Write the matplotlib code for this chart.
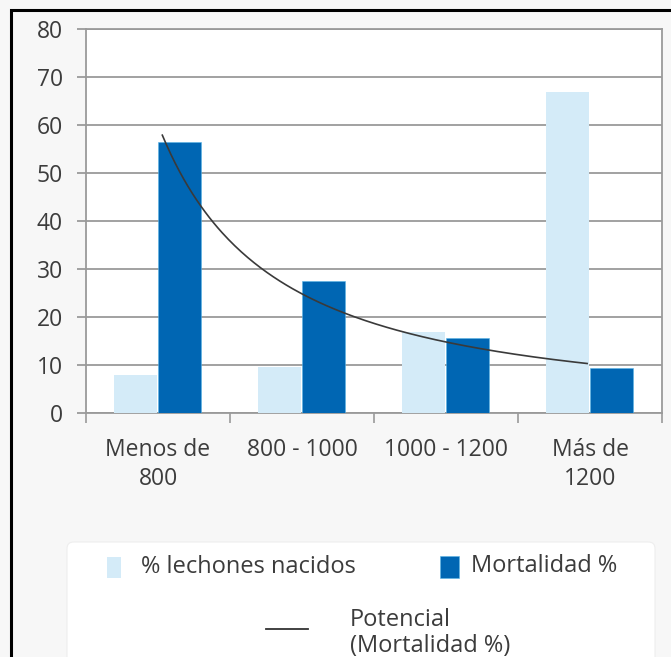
import numpy as np
import matplotlib
matplotlib.use("Agg")
import matplotlib.pyplot as plt
from matplotlib.patches import Rectangle, FancyBboxPatch
from matplotlib.lines import Line2D

categories = ["Menos de\n800", "800 - 1000", "1000 - 1200", "Más de\n1200"]
lechones = [8, 9.6, 16.8, 66.8]
mortalidad = [56.5, 27.4, 15.7, 9.3]
yticks = [0, 10, 20, 30, 40, 50, 60, 70, 80]

light = "#d4ebf8"
dark = "#0066b3"
grid_c = "#9a9a9a"
txt_c = "#3c3c3c"
FS = 16.5
LFS = 17
plt.rcParams["font.family"] = ["Open Sans", "DejaVu Sans"]

W, H = 671, 657
fig = plt.figure(figsize=(W / 100, H / 100), dpi=100)
fig.patch.set_facecolor("#f7f7f7")

ax = fig.add_axes([86 / W, 1 - 413 / H, (662 - 86) / W, (413 - 29) / H])
ax.set_facecolor("white")

x = np.arange(len(categories))
bw = 0.3
ax.bar(x - 0.158, lechones, bw, color=light, zorder=3)
ax.bar(x + 0.152, mortalidad, bw, color=dark, zorder=3, edgecolor="#5ab4e6", linewidth=0.4)

# power trendline ("Potencial") fitted on mortality
lx = np.log(x + 1)
ly = np.log(mortalidad)
b, lna = np.polyfit(lx, ly, 1)
xs = np.linspace(0.03, 2.98, 200)
ax.plot(xs, np.exp(lna) * (xs + 1) ** b, color="#3a3a3a", lw=1.2, zorder=4)

ax.set_xlim(-0.5, 3.5)
ax.set_ylim(0, 80)
ax.set_yticks(yticks)
ax.set_yticklabels([str(v) for v in yticks])
ax.yaxis.grid(True, color=grid_c, lw=1.3, zorder=0)
ax.tick_params(axis="y", length=6.5, width=1.3, color=grid_c, labelsize=FS, labelcolor=txt_c, pad=10)

ax.set_xticks(x)
ax.set_xticklabels(categories, linespacing=1.3)
ax.set_xticks(np.arange(-0.5, 4, 1), minor=True)
ax.tick_params(axis="x", which="major", length=0, labelsize=FS, labelcolor=txt_c, pad=18)
ax.tick_params(axis="x", which="minor", length=7.5, width=1.2, color=grid_c)
for s in ax.spines.values():
    s.set_color(grid_c)
    s.set_linewidth(1.3)

# outer black border
fig.patches.append(Rectangle((11 / W, -0.1), 1.2, (1 - 10 / H) + 0.1, transform=fig.transFigure,
                             fill=False, edgecolor="black", lw=2.2, zorder=10))

# legend box
fig.patches.append(FancyBboxPatch((67 / W, -0.05), (655 - 67) / W, (1 - 542 / H) + 0.05,
                                  boxstyle="round,pad=0,rounding_size=0.01",
                                  transform=fig.transFigure, facecolor="white",
                                  edgecolor="#eeeeee", lw=0.8, zorder=1))
fig.patches.append(Rectangle((107 / W, 1 - 578 / H), 14 / W, 21 / H, transform=fig.transFigure,
                             facecolor=light, edgecolor="none", zorder=2))
fig.patches.append(Rectangle((440 / W, 1 - 578 / H), 19 / W, 22 / H, transform=fig.transFigure,
                             facecolor=dark, edgecolor="#5ab4e6", lw=0.4, zorder=2))
fig.lines.append(Line2D([266 / W, 308 / W], [1 - 629 / H, 1 - 629 / H], transform=fig.transFigure,
                        color="#333333", lw=1.3, zorder=2))
fig.text(141 / W, 1 - 567 / H, "% lechones nacidos", ha="left", va="center", fontsize=LFS, color=txt_c)
fig.text(471 / W, 1 - 566 / H, "Mortalidad %", ha="left", va="center", fontsize=LFS, color=txt_c)
fig.text(350 / W, 1 - 620 / H, "Potencial", ha="left", va="center", fontsize=LFS, color=txt_c)
fig.text(350 / W, 1 - 646 / H, "(Mortalidad %)", ha="left", va="center", fontsize=LFS, color=txt_c)

fig.savefig("out.png", dpi=100, facecolor=fig.get_facecolor())
